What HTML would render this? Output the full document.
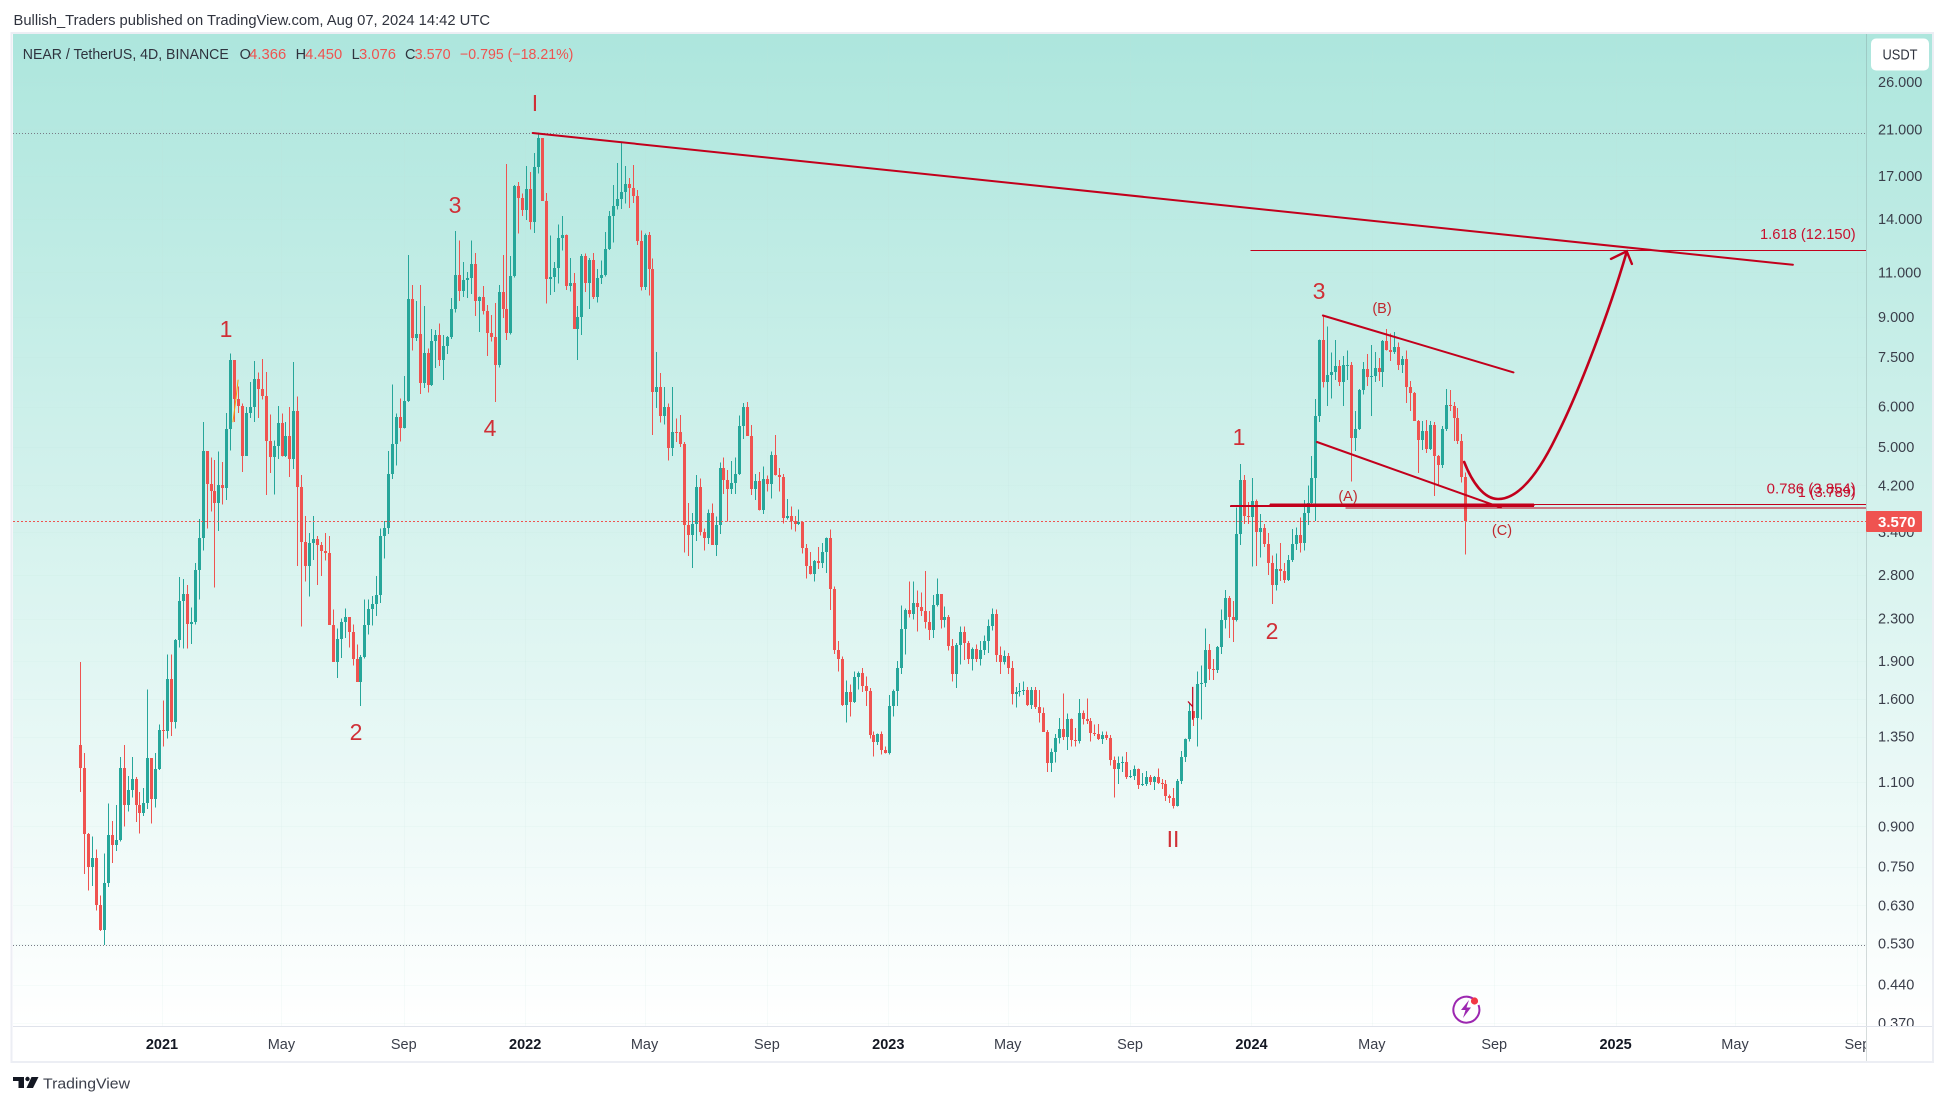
<!DOCTYPE html>
<html lang="en">
<head>
<meta charset="utf-8">
<title>NEAR / TetherUS 4D chart</title>
<style>
html,body{margin:0;padding:0;background:#fff;width:1946px;height:1105px;overflow:hidden}
svg{display:block}
text{font-family:"Liberation Sans",sans-serif;font-size:14.5px}
.dark{fill:#2f333e}
.neg{fill:#ef5350}
.wave{fill:#d02f36;font-size:23px;text-anchor:middle}
.abc{fill:#c0272d;font-size:14.5px;text-anchor:middle}
.fib{fill:#c8102e}
</style>
</head>
<body>
<svg id="chart" xmlns="http://www.w3.org/2000/svg" width="1946" height="1105" viewBox="0 0 1946 1105">
  <defs>
    <linearGradient id="paneBg" x1="0" y1="0" x2="0" y2="1">
      <stop offset="0" stop-color="rgb(173,230,221)"/>
      <stop offset="1" stop-color="#ffffff"/>
    </linearGradient>
    <clipPath id="axisClip"><rect x="1867" y="34" width="65" height="992"/></clipPath>
    <clipPath id="timeClip"><rect x="13" y="1027" width="1853" height="34"/></clipPath>
    <clipPath id="paneClip"><rect x="13" y="34" width="1853" height="992"/></clipPath>
  </defs>

  <text class="dark" x="13.5" y="25" textLength="476.5" lengthAdjust="spacingAndGlyphs">Bullish_Traders published on TradingView.com, Aug 07, 2024 14:42 UTC</text>

  <rect x="11.5" y="33" width="1921.5" height="1029" fill="#fff" stroke="#eceef4" stroke-width="2"/>
  <rect x="13" y="34" width="1919" height="992" fill="url(#paneBg)"/>

  <g id="grid" shape-rendering="crispEdges"></g>
  <g id="candles" shape-rendering="crispEdges" clip-path="url(#paneClip)"></g>
  <g id="levels" shape-rendering="crispEdges"></g>
  <g id="drawings" fill="none" stroke-linecap="round" clip-path="url(#paneClip)"></g>

  <g>
    <text class="wave" x="535" y="111">I</text>
    <text class="wave" x="455" y="213">3</text>
    <text class="wave" x="226" y="337">1</text>
    <text class="wave" x="356" y="740">2</text>
    <text class="wave" x="490" y="436">4</text>
    <text class="wave" x="1173" y="847">II</text>
    <text class="wave" x="1239" y="445">1</text>
    <text class="wave" x="1272" y="639">2</text>
    <text class="wave" x="1319" y="299">3</text>
    <text class="abc" x="1348" y="501">(A)</text>
    <text class="abc" x="1382" y="313">(B)</text>
    <text class="abc" x="1502" y="535">(C)</text>
  </g>

  <g>
    <text class="fib" x="1760" y="239" textLength="95.7" lengthAdjust="spacingAndGlyphs">1.618 (12.150)</text>
    <text class="fib" x="1766.7" y="493.6" textLength="89" lengthAdjust="spacingAndGlyphs">0.786 (3.854)</text>
    <text class="fib" x="1797.7" y="497" textLength="58" lengthAdjust="spacingAndGlyphs">1 (3.789)</text>
  </g>

  <g>
    <text class="dark" x="22.8" y="59" textLength="206" lengthAdjust="spacingAndGlyphs">NEAR / TetherUS, 4D, BINANCE</text>
    <text class="dark" x="239.6" y="59">O</text>
    <text class="neg" x="249.2" y="59" textLength="37" lengthAdjust="spacingAndGlyphs">4.366</text>
    <text class="dark" x="295.6" y="59">H</text>
    <text class="neg" x="305.2" y="59" textLength="37" lengthAdjust="spacingAndGlyphs">4.450</text>
    <text class="dark" x="351.6" y="59">L</text>
    <text class="neg" x="359" y="59" textLength="37" lengthAdjust="spacingAndGlyphs">3.076</text>
    <text class="dark" x="405" y="59">C</text>
    <text class="neg" x="414.6" y="59" textLength="36" lengthAdjust="spacingAndGlyphs">3.570</text>
    <text class="neg" x="460" y="59" textLength="113.4" lengthAdjust="spacingAndGlyphs">−0.795 (−18.21%)</text>
  </g>

  <line x1="1866.5" y1="34" x2="1866.5" y2="1061" stroke="rgba(120,140,140,0.3)" shape-rendering="crispEdges"/>
  <line x1="13" y1="1026.5" x2="1932" y2="1026.5" stroke="#e0e3eb" shape-rendering="crispEdges"/>
  <g id="priceTicks" clip-path="url(#axisClip)"></g>
  <g id="timeTicks" clip-path="url(#timeClip)"></g>

  <rect x="1866" y="511" width="56" height="21" rx="1" fill="#ef5350"/>
  <text x="1878" y="527" fill="#fff" font-weight="bold" textLength="37.5" lengthAdjust="spacingAndGlyphs">3.570</text>

  <g>
    <rect x="1871" y="38.5" width="58" height="32" rx="5" fill="#fff"/>
    <text x="1900" y="59.5" text-anchor="middle" class="dark" textLength="35" lengthAdjust="spacingAndGlyphs">USDT</text>
  </g>

  <g>
    <path d="M1473 998.5 A13 13 0 1 0 1478.5 1005" fill="none" stroke="#9c27b0" stroke-width="2"/>
    <path d="M1469 1000 L1461 1010 L1465.5 1010 L1463 1018 L1471 1007.5 L1466.5 1007.5 Z" fill="#9c27b0"/>
    <circle cx="1474.5" cy="1001" r="3.6" fill="#f23645"/>
  </g>

  <g>
    <path d="M13 1077 H24 V1088 H18.5 V1081 H13 Z M38.5 1077 L33 1088 H26.5 L31.5 1077 Z" fill="#131722"/>
    <circle cx="27.5" cy="1079" r="2.2" fill="#131722"/>
    <text x="43" y="1088.5" fill="#3a3e4a" font-size="15" textLength="87" lengthAdjust="spacingAndGlyphs">TradingView</text>
  </g>
</svg>

<script>
const priceTickLabels = ["26.000","21.000","17.000","14.000","11.000","9.000","7.500","6.000","5.000","4.200","3.400","2.800","2.300","1.900","1.600","1.350","1.100","0.900","0.750","0.630","0.530","0.440","0.370"];
const timeTickLabels = ["2021","May","Sep","2022","May","Sep","2023","May","Sep","2024","May","Sep","2025","May","Sep"];
const timeTickDates = ["2021-01-01","2021-05-01","2021-09-01","2022-01-01","2022-05-01","2022-09-01","2023-01-01","2023-05-01","2023-09-01","2024-01-01","2024-05-01","2024-09-01","2025-01-01","2025-05-01","2025-09-01"];

const firstOpen = 1.30;
const closes = [
1.17,0.869,0.749,0.78,0.631,0.563,0.696,0.864,0.828,0.847,
1.17,0.992,1.06,1.115,0.992,0.955,0.998,1.225,1.02,1.165,
1.39,1.385,1.75,1.44,2.09,2.49,2.57,2.25,2.27,2.87,
3.31,4.91,4.22,4.10,3.88,4.20,4.15,5.43,7.39,6.22,
6.02,4.80,5.83,5.99,6.79,6.50,6.28,5.14,4.78,5.02,
5.58,4.80,5.25,4.74,5.88,4.17,3.25,2.92,3.24,3.29,
3.21,3.13,3.09,2.24,1.895,2.10,2.27,2.32,2.17,1.92,
1.73,1.935,2.24,2.40,2.46,2.56,3.34,3.46,4.43,5.07,
5.72,5.45,6.15,9.75,8.17,8.33,6.67,7.65,6.60,8.05,
8.28,7.40,7.88,8.21,9.32,10.87,10.11,10.63,10.72,11.43,
9.66,9.84,9.24,8.36,8.21,7.24,10.05,9.33,8.38,10.80,
16.27,15.4,14.6,16.05,13.8,17.7,20.2,15.2,10.68,10.77,
11.2,12.87,13.05,10.34,10.49,8.52,9.0,11.85,10.49,11.64,
9.84,10.72,10.87,12.24,14.2,14.85,15.35,15.85,16.4,16.1,
15.55,12.69,10.3,13.05,11.15,6.40,6.55,5.75,5.99,4.98,
5.35,5.34,5.07,3.52,3.35,3.53,4.17,3.41,3.31,3.71,
3.21,3.51,4.54,4.30,4.13,4.24,4.42,5.50,5.99,5.26,
4.13,4.28,3.76,4.33,4.22,4.82,4.40,4.36,3.63,3.66,
3.57,3.53,3.56,3.17,2.92,2.82,2.99,2.96,3.11,3.31,
2.63,2.00,1.92,1.56,1.65,1.58,1.77,1.80,1.70,1.66,
1.36,1.32,1.365,1.27,1.255,1.55,1.66,1.84,2.20,2.39,
2.35,2.47,2.42,2.38,2.27,2.19,2.45,2.57,2.29,2.32,
2.03,1.79,2.045,2.17,2.06,1.92,2.01,1.92,2.00,2.08,
2.23,2.35,1.95,1.89,1.94,1.84,1.64,1.655,1.66,1.67,
1.56,1.665,1.54,1.50,1.38,1.20,1.26,1.34,1.40,1.35,
1.46,1.33,1.325,1.50,1.465,1.45,1.37,1.365,1.335,1.36,
1.34,1.215,1.165,1.20,1.205,1.125,1.13,1.165,1.085,1.09,
1.125,1.10,1.125,1.095,1.09,1.03,1.025,0.985,1.105,1.23,
1.335,1.515,1.47,1.71,1.72,2.00,1.83,1.82,2.02,2.29,
2.52,2.32,2.29,3.38,4.30,3.66,3.64,3.91,3.40,3.47,
3.22,2.96,2.68,2.88,2.85,2.74,3.00,3.22,3.35,3.24,
3.71,3.88,4.34,5.75,8.10,6.70,6.92,7.02,7.22,6.70,
7.24,7.25,5.21,5.43,6.46,7.11,6.85,6.88,7.15,7.02,
8.06,7.75,7.68,7.85,7.24,7.44,6.55,6.37,5.62,5.16,
5.37,4.95,5.52,4.80,4.60,5.43,6.03,6.02,5.70,5.13,4.366,3.57
];
const highs = [
1.89,1.255,0.874,0.859,0.81,0.659,0.796,0.998,0.922,0.99,
1.23,1.30,1.13,1.23,1.125,1.05,1.07,1.67,1.225,1.255,
1.425,1.59,1.955,1.955,2.10,2.78,2.75,2.68,2.42,2.96,
3.61,5.60,4.87,4.76,4.71,4.90,4.67,5.83,7.62,7.39,
6.57,6.08,5.98,6.70,7.37,6.99,7.44,7.02,5.79,5.15,
6.02,5.81,5.60,5.99,7.34,6.28,4.40,3.66,3.39,3.66,
3.34,3.25,3.39,3.34,2.40,2.20,2.30,2.41,2.32,2.24,
2.045,1.95,2.51,2.51,2.55,2.79,3.46,3.58,4.91,6.62,
5.81,6.22,6.88,11.9,10.4,9.66,10.4,9.45,7.79,8.52,
8.47,8.74,8.28,8.26,9.79,13.27,12.69,11.53,11.02,12.69,
12.0,9.87,10.34,9.50,9.08,9.58,10.38,11.9,17.96,11.85,
16.33,16.55,15.7,17.8,17.3,18.85,20.7,20.2,15.75,13.0,
11.53,13.65,14.2,13.05,11.74,10.97,9.45,11.95,11.97,11.74,
12.0,11.18,11.6,13.2,14.5,16.33,18.05,19.85,17.8,16.85,
17.85,15.97,13.3,13.1,13.2,11.7,7.68,6.98,6.55,6.08,
6.55,5.68,5.78,5.11,3.88,3.71,4.40,4.33,3.46,3.77,
3.87,3.65,4.66,4.77,4.50,4.69,4.76,5.76,6.09,6.12,
5.52,4.42,4.46,4.58,4.39,4.90,5.28,4.54,4.42,3.95,
3.82,3.66,3.77,3.57,3.22,3.11,3.0,3.18,3.24,3.32,
3.44,2.66,2.08,1.94,1.74,1.71,1.81,1.81,1.84,1.77,
1.68,1.38,1.37,1.38,1.29,1.63,1.67,1.90,2.44,2.41,
2.72,2.72,2.61,2.59,2.85,2.38,2.56,2.76,2.57,2.43,
2.34,2.10,2.06,2.22,2.22,2.08,2.02,2.045,2.08,2.13,
2.29,2.41,2.40,2.03,1.99,1.97,1.90,1.69,1.72,1.73,
1.69,1.69,1.69,1.665,1.54,1.39,1.28,1.365,1.47,1.64,
1.50,1.465,1.405,1.60,1.52,1.605,1.47,1.425,1.43,1.38,
1.38,1.36,1.235,1.235,1.235,1.26,1.16,1.185,1.17,1.145,
1.155,1.135,1.13,1.17,1.115,1.11,1.04,1.07,1.115,1.265,
1.34,1.57,1.515,1.81,1.86,2.20,2.05,1.915,2.035,2.40,
2.62,2.55,2.49,3.80,4.63,4.40,3.90,4.34,3.94,3.69,
3.53,3.39,3.06,3.09,3.24,2.96,3.07,3.45,3.47,3.63,
3.93,4.20,4.80,6.21,8.12,9.05,8.62,7.65,8.10,7.40,
7.54,7.72,7.33,5.88,6.49,7.33,7.61,7.92,7.68,7.47,
8.10,8.52,8.35,8.40,8.02,7.54,7.72,6.73,6.40,5.65,
5.62,5.65,5.62,5.60,4.82,5.50,6.49,6.46,6.12,5.96,5.30,4.45
];
const lows = [
1.05,0.725,0.674,0.688,0.615,0.561,0.527,0.684,0.763,0.805,
0.84,0.90,0.963,1.025,0.917,0.872,0.943,0.973,0.912,0.98,
1.16,1.29,1.34,1.355,1.40,2.02,2.01,2.01,2.05,2.24,
2.51,3.13,3.46,3.73,2.65,3.42,3.85,3.93,4.92,5.60,
5.82,4.46,4.80,5.70,5.59,5.70,6.19,4.02,4.44,4.03,
4.73,4.79,4.78,4.36,4.52,2.92,2.22,2.72,2.54,3.00,
2.68,2.79,2.99,2.235,1.89,1.76,1.925,2.11,2.02,1.86,
1.73,1.55,1.92,2.14,2.23,2.33,2.47,3.02,3.37,4.32,
4.60,5.12,5.43,6.12,7.72,8.07,6.35,6.52,6.39,6.58,
7.14,7.21,6.76,7.60,8.14,9.18,9.66,9.84,9.80,9.98,
9.03,8.41,9.09,7.53,8.05,6.12,7.15,8.96,8.10,8.30,
10.74,13.1,14.2,13.95,13.35,13.15,17.2,15.2,9.55,9.94,
10.07,10.45,12.13,10.16,10.1,8.52,7.40,8.28,10.07,9.32,
9.75,9.61,10.43,10.8,12.18,12.6,14.6,14.65,15.0,14.7,
15.05,12.45,10.13,10.16,9.9,5.28,5.96,5.58,5.53,4.70,
4.80,5.11,5.0,3.10,3.05,2.89,3.27,3.35,3.13,3.22,
3.21,3.05,3.37,4.04,3.57,4.04,4.04,4.40,5.18,5.26,
4.02,3.93,3.75,3.69,4.09,3.96,4.39,4.09,3.54,3.60,
3.44,3.41,3.51,3.09,2.76,2.81,2.72,2.88,2.89,2.83,
2.39,1.96,1.81,1.55,1.44,1.48,1.57,1.67,1.65,1.55,
1.34,1.235,1.30,1.245,1.25,1.245,1.48,1.55,1.79,1.955,
2.31,2.29,2.17,2.33,2.20,2.09,2.11,2.43,2.20,2.21,
1.99,1.73,1.68,1.87,1.91,1.875,1.82,1.89,1.86,1.95,
1.97,2.18,1.89,1.79,1.87,1.79,1.56,1.54,1.62,1.63,
1.55,1.53,1.53,1.44,1.38,1.15,1.15,1.20,1.31,1.33,
1.27,1.29,1.29,1.31,1.425,1.43,1.32,1.355,1.33,1.305,
1.33,1.185,1.025,1.09,1.15,1.115,1.12,1.11,1.065,1.08,
1.08,1.085,1.06,1.09,1.065,1.01,1.00,0.975,0.985,1.09,
1.205,1.32,1.415,1.29,1.46,1.69,1.745,1.745,1.80,1.96,
2.20,2.11,2.07,2.27,3.21,3.53,3.53,2.91,2.92,3.03,
3.18,2.80,2.46,2.61,2.73,2.70,2.73,2.97,3.14,3.10,
3.13,3.51,3.86,3.58,5.60,6.54,6.02,6.22,6.76,6.58,
6.02,6.76,4.28,4.91,5.40,6.34,6.58,5.75,6.70,6.73,
6.55,7.72,7.37,7.61,7.08,6.98,6.09,5.88,5.62,4.44,
4.93,4.86,4.93,4.00,4.21,4.54,5.37,5.88,5.13,5.07,4.26,3.076
];

const allTimeHigh = 20.65;
const allTimeLow = 0.5265;
const lastPrice = 3.57;

/* drawing anchors: [bar index, price] */
const mainTrend = [[114.65,20.65],[434.0,11.38]];
const wedgeUpper = [[314.9,9.05],[363.2,7.0]];
const wedgeLower = [[313.4,5.11],[360,3.80]];
const thickLevelA = [[291.6,3.827],[368.2,3.827]];
const thickLevelB = [[301.7,3.844],[368.2,3.844]];
const fib1618 = [[296.7,12.15],[452.5,12.15]];
const fib0786 = [[301.7,3.854],[452.5,3.854]];
const fib1 = [[320.7,3.789],[452.5,3.789]];
const projectionCurve = [[350.7,4.67],[352.7,4.26],[355.7,3.95],[359.3,3.95],[364.9,3.95],[369.9,4.50],[374,5.23],[380,6.46],[387.6,9.28],[391.9,12.07]];
const projectionArrow = [[387.9,11.69],[391.9,12.1],[393.2,11.43]];
const squiggleRed = [[280.8,1.58],[281.9,1.545],[281.9,1.69],[281.9,1.46]];
const squiggleOrange = [[38.7,5.60],[39.5,6.28],[40,6.76]];

const NS = 'http://www.w3.org/2000/svg';
function yPrice(p){ return 521.4 - 221.3 * Math.log(p / 3.57); }
function xBar(i){ return 80.3 + i * 3.946; }
function xDate(d){ return 162 + (Date.parse(d) - Date.parse('2021-01-01')) / 86400000 * 0.99494; }
function make(tag, parent){
  const el = document.createElementNS(NS, tag);
  parent.appendChild(el);
  return el;
}
function pointsOf(arr){ return arr.map(function(a){ return xBar(a[0]).toFixed(1) + ',' + yPrice(a[1]).toFixed(1); }).join(' '); }

/* grid + time axis */
const gridG = document.getElementById('grid');
const timeG = document.getElementById('timeTicks');
timeTickLabels.forEach(function(label, i){
  const x = xDate(timeTickDates[i]);
  const gl = make('line', gridG);
  
  
  gl.setAttribute('x1', Math.round(x) + 0.5);
  gl.setAttribute('x2', Math.round(x) + 0.5);
  gl.setAttribute('y1', 34);
  gl.setAttribute('y2', 1026);
  gl.setAttribute('stroke', 'rgba(190,225,215,0.13)');
  const t = make('text', timeG);
  
  
  t.setAttribute('x', x);
  t.setAttribute('y', 1049);
  t.setAttribute('text-anchor', 'middle');
  t.setAttribute('fill', /^\d/.test(label) ? '#131722' : '#3a3e4a');
  if (/^\d/.test(label)) t.setAttribute('font-weight', 'bold');
  t.textContent = label;
});

/* price axis */
const priceG = document.getElementById('priceTicks');
priceTickLabels.forEach(function(label){
  const y = yPrice(parseFloat(label));
  const gl = make('line', gridG);
  
  
  gl.setAttribute('x1', 13);
  gl.setAttribute('x2', 1866);
  gl.setAttribute('y1', Math.round(y) + 0.5);
  gl.setAttribute('y2', Math.round(y) + 0.5);
  gl.setAttribute('stroke', 'rgba(190,225,215,0.1)');
  const t = make('text', priceG);
  
  
  t.setAttribute('x', 1878);
  t.setAttribute('y', y + 5);
  t.setAttribute('fill', '#3a3e4a');
  t.textContent = label;
});

/* candles */
const candleG = document.getElementById('candles');
for (let i = 0; i < closes.length; i++){
  const open = i === 0 ? firstOpen : closes[i - 1];
  const close = closes[i];
  const color = close >= open ? '#26a69a' : '#ef5350';
  const xc = Math.round(xBar(i));
  const wick = make('rect', candleG);
  
  
  wick.setAttribute('x', xc);
  wick.setAttribute('width', 1);
  wick.setAttribute('y', yPrice(highs[i]));
  wick.setAttribute('height', Math.max(1, yPrice(lows[i]) - yPrice(highs[i])));
  wick.setAttribute('fill', color);
  const top = Math.round(yPrice(Math.max(open, close)));
  const bot = Math.round(yPrice(Math.min(open, close)));
  const body = make('rect', candleG);
  
  
  body.setAttribute('x', xc - 1);
  body.setAttribute('width', 3);
  body.setAttribute('y', top);
  body.setAttribute('height', Math.max(1, bot - top));
  body.setAttribute('fill', color);
}

/* dotted price lines */
const levelsG = document.getElementById('levels');
const highLine = make('line', levelsG);


highLine.setAttribute('x1', 13);
highLine.setAttribute('x2', 1866);
highLine.setAttribute('y1', Math.round(yPrice(allTimeHigh)) + 0.5);
highLine.setAttribute('y2', Math.round(yPrice(allTimeHigh)) + 0.5);
highLine.setAttribute('stroke', '#787b86');
highLine.setAttribute('stroke-dasharray', '1 2');
const lowLine = make('line', levelsG);


lowLine.setAttribute('x1', 13);
lowLine.setAttribute('x2', 1866);
lowLine.setAttribute('y1', Math.round(yPrice(allTimeLow)) + 0.5);
lowLine.setAttribute('y2', Math.round(yPrice(allTimeLow)) + 0.5);
lowLine.setAttribute('stroke', '#787b86');
lowLine.setAttribute('stroke-dasharray', '1 2');
const lastLine = make('line', levelsG);


lastLine.setAttribute('x1', 13);
lastLine.setAttribute('x2', 1866);
lastLine.setAttribute('y1', Math.round(yPrice(lastPrice)) + 0.5);
lastLine.setAttribute('y2', Math.round(yPrice(lastPrice)) + 0.5);
lastLine.setAttribute('stroke', '#ef5350');
lastLine.setAttribute('stroke-dasharray', '2 2');

/* drawings */
const drawG = document.getElementById('drawings');
const RED = '#c2001c';

const mainTrendLine = make('polyline', drawG);


mainTrendLine.setAttribute('points', pointsOf(mainTrend));
mainTrendLine.setAttribute('stroke', RED);
mainTrendLine.setAttribute('stroke-width', 2);

const wedgeUpperLine = make('polyline', drawG);


wedgeUpperLine.setAttribute('points', pointsOf(wedgeUpper));
wedgeUpperLine.setAttribute('stroke', RED);
wedgeUpperLine.setAttribute('stroke-width', 2);

const wedgeLowerLine = make('polyline', drawG);


wedgeLowerLine.setAttribute('points', pointsOf(wedgeLower));
wedgeLowerLine.setAttribute('stroke', RED);
wedgeLowerLine.setAttribute('stroke-width', 2);

const levelA = make('polyline', drawG);


levelA.setAttribute('points', pointsOf(thickLevelA));
levelA.setAttribute('stroke', RED);
levelA.setAttribute('stroke-width', 2);
levelA.setAttribute('shape-rendering', 'crispEdges');

const levelB = make('polyline', drawG);


levelB.setAttribute('points', pointsOf(thickLevelB));
levelB.setAttribute('stroke', RED);
levelB.setAttribute('stroke-width', 3);
levelB.setAttribute('shape-rendering', 'crispEdges');

const fibA = make('polyline', drawG);


fibA.setAttribute('points', pointsOf(fib1618));
fibA.setAttribute('stroke', RED);
fibA.setAttribute('stroke-width', 1);
fibA.setAttribute('shape-rendering', 'crispEdges');

const fibB = make('polyline', drawG);


fibB.setAttribute('points', pointsOf(fib0786));
fibB.setAttribute('stroke', RED);
fibB.setAttribute('stroke-width', 1);
fibB.setAttribute('shape-rendering', 'crispEdges');

const fibC = make('polyline', drawG);


fibC.setAttribute('points', pointsOf(fib1));
fibC.setAttribute('stroke', RED);
fibC.setAttribute('stroke-width', 1);
fibC.setAttribute('shape-rendering', 'crispEdges');

const curve = make('path', drawG);


(function(){
  const p = projectionCurve.map(function(a){ return xBar(a[0]).toFixed(1) + ' ' + yPrice(a[1]).toFixed(1); });
  let d = 'M' + p[0];
  for (let k = 1; k + 2 < p.length; k += 3) d += ' C' + p[k] + ' ' + p[k + 1] + ' ' + p[k + 2];
  curve.setAttribute('d', d);
})();
curve.setAttribute('stroke', RED);
curve.setAttribute('stroke-width', 2.6);

const arrow = make('polyline', drawG);


arrow.setAttribute('points', pointsOf(projectionArrow));
arrow.setAttribute('stroke', RED);
arrow.setAttribute('stroke-width', 2.4);

const squigA = make('polyline', drawG);


squigA.setAttribute('points', pointsOf(squiggleRed));
squigA.setAttribute('stroke', RED);
squigA.setAttribute('stroke-width', 1.2);

const squigB = make('polyline', drawG);


squigB.setAttribute('points', pointsOf(squiggleOrange));
squigB.setAttribute('stroke', '#ff9800');
squigB.setAttribute('stroke-width', 1);
</script>
</body>
</html>
